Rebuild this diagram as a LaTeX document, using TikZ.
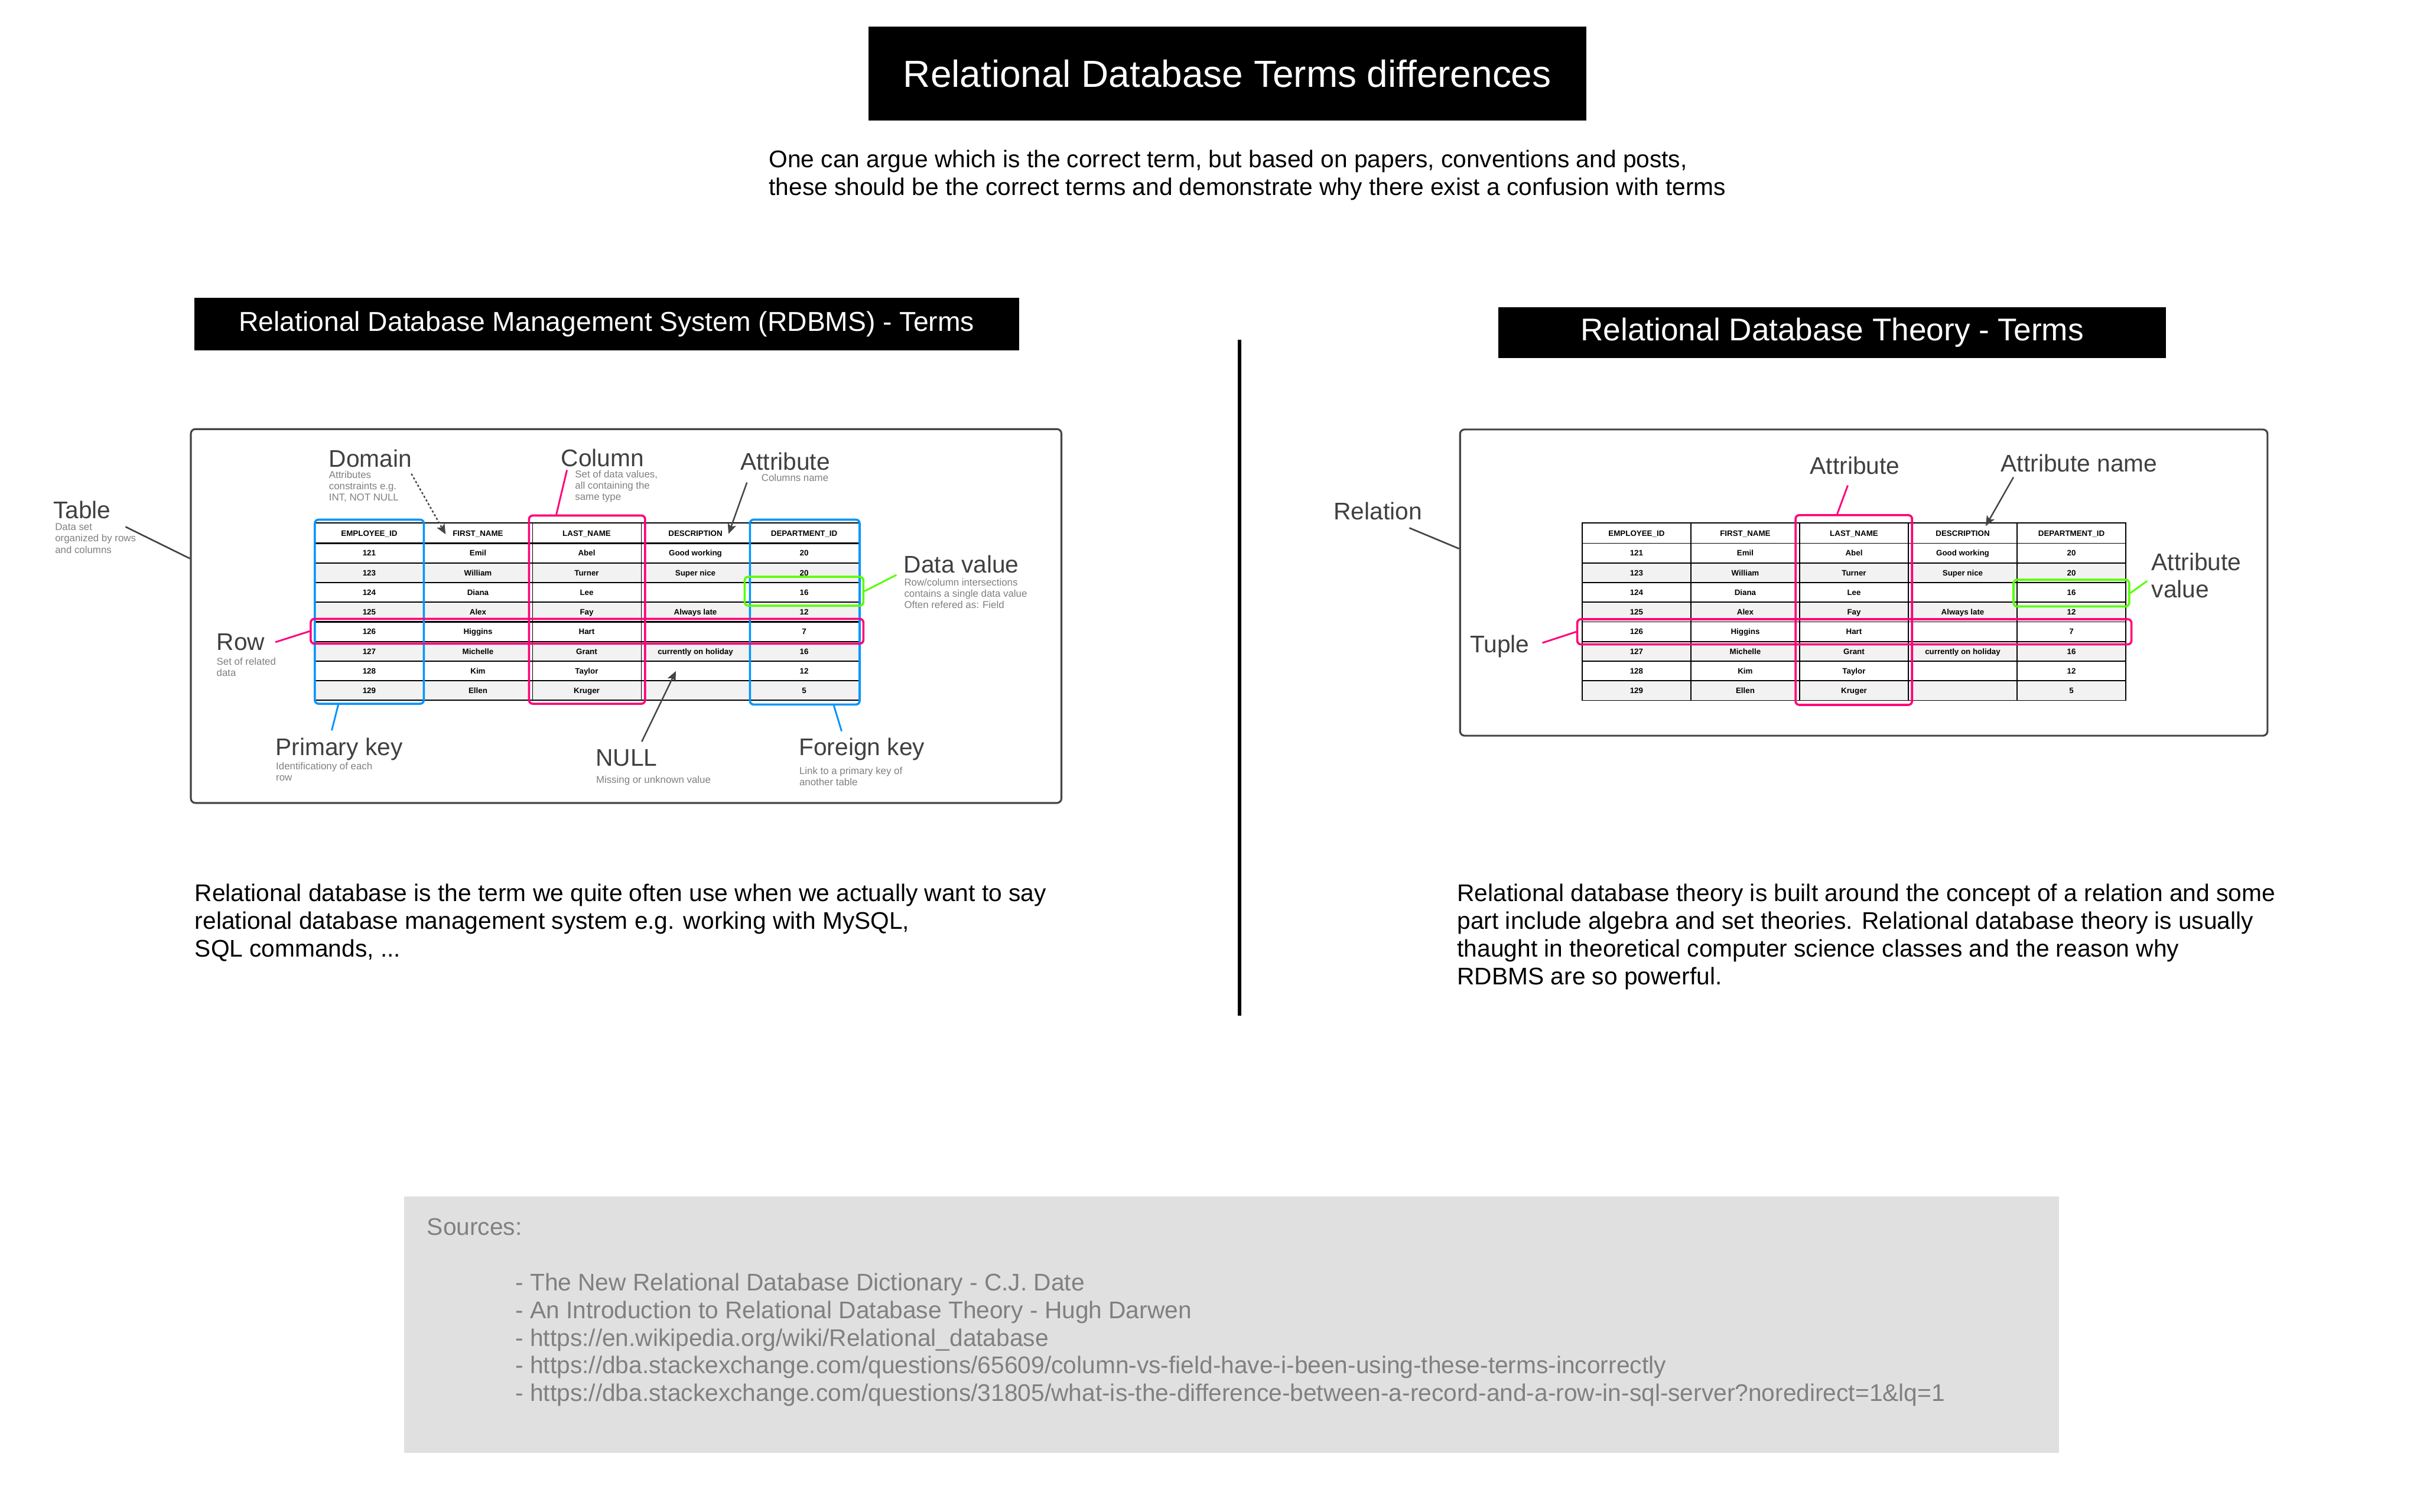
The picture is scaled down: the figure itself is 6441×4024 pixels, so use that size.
\documentclass[tikz,border=0pt]{standalone}
\usepackage{fontspec}
\setmainfont{Liberation Sans}
\usetikzlibrary{arrows.meta, fit, calc}

\definecolor{labelgray}{HTML}{404040}
\definecolor{descgray}{HTML}{808080}
\definecolor{framegray}{HTML}{444444}
\definecolor{keyblue}{HTML}{0095FF}
\definecolor{hlpink}{HTML}{FF0077}
\definecolor{hlgreen}{HTML}{55FF00}
\definecolor{rowgray}{HTML}{F2F2F2}
\definecolor{srcbg}{HTML}{E0E0E0}

\begin{document}
\begin{tikzpicture}[
  x=0.1mm, y=-0.1mm,
  headbox/.style={fill=black, text=white, inner sep=0pt},
  term/.style={anchor=base west, inner sep=0pt, text=labelgray, align=left, font=\fontsize{18.21pt}{20.8pt}\selectfont},
  note/.style={anchor=base west, inner sep=0pt, text=descgray, align=left, font=\fontsize{7.54pt}{8.54pt}\selectfont},
  body/.style={anchor=base west, inner sep=0pt, align=left, font=\fontsize{18.21pt}{21.05pt}\selectfont},
  src/.style={anchor=base west, inner sep=0pt, align=left, text=descgray, font=\fontsize{18.21pt}{20.85pt}\selectfont},
  cell/.style={anchor=base, inner sep=0pt, font=\fontsize{5.97pt}{7pt}\selectfont\bfseries},
  panel/.style={draw=framegray, line width=1.4pt, rounded corners=3.4pt, inner sep=0pt},
  hlbox/.style={draw=#1, line width=1.6pt, rounded corners=2.8pt, inner sep=0pt},
  hlline/.style={draw=#1, line width=1.3pt},
  pointer/.style={draw=framegray, line width=1.1pt, -{Stealth[length=7.5pt, width=6.5pt, inset=1.5pt]}},
]
\fill[white] (0,0) rectangle (6441,4024);
\useasboundingbox (0,0) rectangle (6441,4024);
% multi-line texts are placed by the baseline of their last line

% title and intro
\node[headbox, minimum width=191.1mm, minimum height=25.1mm, font=\fontsize{28.6pt}{30pt}\selectfont] (title) at (3266.5,195.5) {Relational Database Terms differences};
\node[body] (intro) at (2046,520) {One can argue which is the correct term, but based on papers, conventions and posts,\\these should be the correct terms and demonstrate why there exist a confusion with terms};

% section headings
\node[headbox, minimum width=219.5mm, minimum height=14mm, font=\fontsize{20.7pt}{22pt}\selectfont] (rdbmshead) at (1614.5,863) {Relational Database Management System (RDBMS) - Terms};
\node[headbox, minimum width=177.7mm, minimum height=13.5mm, font=\fontsize{23.8pt}{25pt}\selectfont] (theoryhead) at (4876.5,885.5) {Relational Database Theory - Terms};
\draw[line width=2.3pt] (3299,904) -- (3299,2703);

% panels
\node[panel, fit={(508,1142) (2825,2137)}] (rdbmsframe) {};
\node[panel, fit={(3886,1143) (6035,1958)}] (theoryframe) {};

% the two tables
\foreach \tb/\tx in {L/838, R/4211}{
  \foreach \r in {2,4,6,8}
    \fill[rowgray] (\tx,{1446+(\r-1)*52.25}) rectangle ++(1447,52.25);
  \foreach \h [count=\c] in {EMPLOYEE\_ID,FIRST\_NAME,LAST\_NAME,DESCRIPTION,DEPARTMENT\_ID}
    \node[cell] (\tb-h-\c) at ({\tx+(\c-0.5)*289.4},1426.5) {\h};
  \foreach \id/\fn/\ln/\ds/\dp [count=\r] in {121/Emil/Abel/Good working/20, 123/William/Turner/Super nice/20,
      124/Diana/Lee//16, 125/Alex/Fay/Always late/12, 126/Higgins/Hart//7,
      127/Michelle/Grant/currently on holiday/16, 128/Kim/Taylor//12, 129/Ellen/Kruger//5}{
    \foreach \v [count=\c] in {\id,\fn,\ln,\ds,\dp}
      \node[cell] (\tb-\r-\c) at ({\tx+(\c-0.5)*289.4},{1453.5+(\r-0.5)*52.25}) {\v};
  }
}
% table rules
\foreach \k in {0,...,8}{
  \draw[line width=1pt] (838,{1446+\k*52.25}) -- ++(1447,0);
  \draw[line width=0.75pt] (4211,{1446+\k*52.25}) -- ++(1447,0);
}
\draw[line width=1pt] (838,1392) -- ++(1447,0);
\draw[line width=0.75pt] (4211,1392) rectangle ++(1447,472);
\foreach \c in {1,...,4}{
  \draw[line width=0.3pt] ({838+\c*289.4},1392) -- ++(0,472);
  \draw[line width=0.75pt] ({4211+\c*289.4},1392) -- ++(0,472);
}

% highlights, RDBMS side
\node[hlbox=keyblue, fit={(838,1383) (1128,1873)}] (Lpk) {};
\node[hlbox=keyblue, fit={(1996,1383) (2288,1875)}] (Lfk) {};
\node[hlbox=hlpink, fit={(1408,1372) (1717,1873)}] (Lcol) {};
\node[hlbox=hlpink, fit={(827,1647) (2298,1713)}] (Lrow) {};
\node[hlbox=hlgreen, fit={(1982,1535) (2298,1612)}] (Lval) {};

% highlights, theory side
\node[hlbox=hlpink, fit={(4779,1371) (5089,1876)}] (Rattr) {};
\node[hlbox=hlpink, fit={(4198,1648) (5673,1715)}] (Rtuple) {};
\node[hlbox=hlgreen, fit={(5359,1543) (5667,1614)}] (Rval) {};

% RDBMS terms
\node[term] (tableterm) at (141,1380) {Table};
\node[note] (tablenote) at (146,1472) {Data set\\organized by rows\\and columns};
\node[term] (domainterm) at (875,1243) {Domain};
\node[note] (domainnote) at (875,1333) {Attributes\\constraints e.g.\\INT, NOT NULL};
\node[term] (columnterm) at (1493,1242) {Column};
\node[note] (columnnote) at (1530,1331) {Set of data values,\\all containing the\\same type};
\node[term] (attrterm) at (1970,1251) {Attribute};
\node[note] (attrnote) at (2026,1281) {Columns name};
\node[term] (valueterm) at (2405,1524) {Data value};
\node[note] (valuenote) at (2406,1619) {Row/column intersections\\contains a single data value\\Often refered as: Field};
\node[term] (rowterm) at (576,1730) {Row};
\node[note] (rownote) at (576,1800) {Set of related\\data};
\node[term] (pkterm) at (733,2011) {Primary key};
\node[note] (pknote) at (734,2078) {Identificationy of each\\row};
\node[term] (nullterm) at (1585,2039) {NULL};
\node[note] (nullnote) at (1586,2084) {Missing or unknown value};
\node[term] (fkterm) at (2126,2011) {Foreign key};
\node[note] (fknote) at (2127,2091) {Link to a primary key of\\another table};

\coordinate (tablefrom) at (334,1402);
\coordinate (domainfrom) at (1095,1261);
\coordinate (domainto) at (1186,1422);
\coordinate (columnfrom) at (1509,1251);
\coordinate (attrfrom) at (1988,1284);
\coordinate (attrto) at (1939,1421);
\coordinate (valueto) at (2386,1530);
\coordinate (rowfrom) at (733,1709);
\coordinate (pkfrom) at (883,1944);
\coordinate (nullfrom) at (1708,1974);
\coordinate (nullto) at (1799,1786);
\coordinate (fkfrom) at (2240,1946);

\draw[draw=framegray, line width=1.2pt] (tablefrom) -- ($(rdbmsframe.north west)!0.347!(rdbmsframe.south west)$);
\draw[pointer, dash pattern=on 1.6pt off 1.6pt] (domainfrom) -- (domainto);
\draw[hlline=hlpink] (columnfrom) -- ($(Lcol.north west)!0.24!(Lcol.north east)$);
\draw[pointer] (attrfrom) -- (attrto);
\draw[hlline=hlgreen] (Lval.east) -- (valueto);
\draw[hlline=hlpink] (rowfrom) -- (Lrow.west);
\draw[hlline=keyblue] (pkfrom) -- ($(Lpk.south west)!0.22!(Lpk.south east)$);
\draw[pointer] (nullfrom) -- (nullto);
\draw[hlline=keyblue] (fkfrom) -- ($(Lfk.south west)!0.76!(Lfk.south east)$);

% theory terms
\node[term] (relterm) at (3549,1383) {Relation};
\node[term] (rattrterm) at (4817,1262) {Attribute};
\node[term] (rnameterm) at (5325,1255) {Attribute name};
\node[term] (rvalueterm) at (5726,1591) {Attribute\\value};
\node[term] (tupleterm) at (3912,1737) {Tuple};

\coordinate (relfrom) at (3751,1405);
\coordinate (rattrfrom) at (4918,1292);
\coordinate (rnamefrom) at (5359,1270);
\coordinate (rnameto) at (5285,1400);
\coordinate (rvalueto) at (5715,1546);
\coordinate (tuplefrom) at (4105,1711);

\draw[draw=framegray, line width=1.2pt] (relfrom) -- ($(theoryframe.north west)!0.39!(theoryframe.south west)$);
\draw[hlline=hlpink] (rattrfrom) -- ($(Rattr.north west)!0.36!(Rattr.north east)$);
\draw[pointer] (rnamefrom) -- (rnameto);
\draw[hlline=hlgreen] (Rval.east) -- (rvalueto);
\draw[hlline=hlpink] (tuplefrom) -- (Rtuple.west);

% explanations
\node[body] (rdbmstext) at (518,2547) {Relational database is the term we quite often use when we actually want to say\\relational database management system e.g. working with MySQL,\\SQL commands, ...};
\node[body] (theorytext) at (3878,2621) {Relational database theory is built around the concept of a relation and some\\part include algebra and set theories. Relational database theory is usually\\thaught in theoretical computer science classes and the reason why\\RDBMS are so powerful.};

% sources
\node[fill=srcbg, inner sep=0pt, minimum width=440.4mm, minimum height=68.2mm] (srcbox) at (3278,3525) {};
\node[src] (srchead) at (1136,3288) {Sources:};
\node[src] (srclist) at (1371,3729) {- The New Relational Database Dictionary - C.J. Date\\
- An Introduction to Relational Database Theory - Hugh Darwen\\
- https://en.wikipedia.org/wiki/Relational\_database\\
- https://dba.stackexchange.com/questions/65609/column-vs-field-have-i-been-using-these-terms-incorrectly\\
- https://dba.stackexchange.com/questions/31805/what-is-the-difference-between-a-record-and-a-row-in-sql-server?noredirect=1\&lq=1};
\end{tikzpicture}
\end{document}
